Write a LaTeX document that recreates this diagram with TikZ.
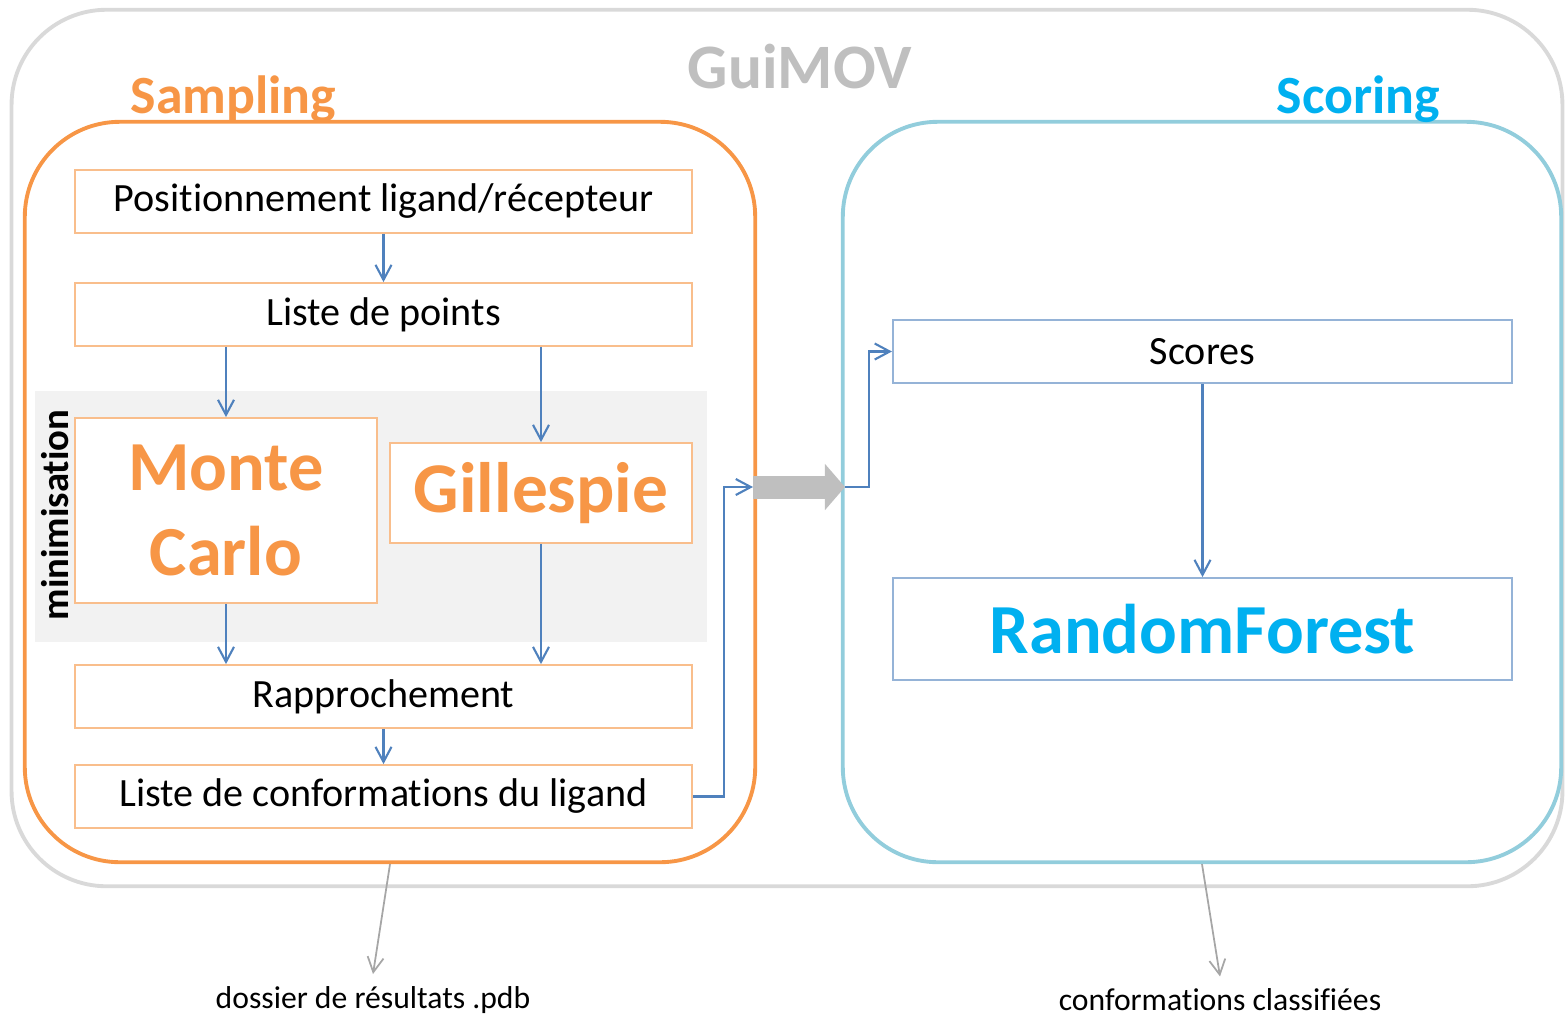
\documentclass[tikz,border=0pt]{standalone}
\usepackage{fontspec}
\setmainfont[Ligatures=CommonOff]{Carlito}
\usepackage{xcolor}
\usepackage{tikz}
\usetikzlibrary{shapes,arrows.meta,positioning}

\definecolor{guigray}{HTML}{D9D9D9}
\definecolor{titlegray}{HTML}{BFBFBF}
\definecolor{samporange}{HTML}{F79646}
\definecolor{boxorange}{HTML}{F9BE8C}
\definecolor{scorblue}{HTML}{92CDDC}
\definecolor{scorcyan}{HTML}{00B0F0}
\definecolor{boxblue}{HTML}{95B3D7}
\definecolor{arrblue}{HTML}{4F81BD}
\definecolor{shade}{HTML}{F2F2F2}
\definecolor{outgray}{HTML}{A6A6A6}

\begin{document}
\begin{tikzpicture}[x=0.01cm, y=-0.01cm,
    container/.style={rectangle, line width=1.1pt, rounded corners=0.95cm},
    obox/.style={rectangle, draw=boxorange, fill=white, line width=0.5pt, text centered},
    bbox/.style={rectangle, draw=boxblue, fill=white, line width=0.5pt, text centered},
    arr/.style={draw=arrblue, line width=0.6pt, -{Straight Barb[length=0.15cm, width=0.16cm]}},
    outarr/.style={draw=outgray, line width=0.5pt, -{Straight Barb[length=0.15cm, width=0.16cm]}},
    bigarrow/.style={draw=titlegray, line width=0.23cm, -{Triangle[length=0.2cm, width=0.45cm]}}]
    \useasboundingbox (0,0) rectangle (1566,1014);

    % Containers
    \node (guimov) [container, draw=guigray, minimum width=15.5cm, minimum height=8.76cm] at (787,448) {};
    \node (sampling) [container, draw=samporange, minimum width=7.3cm, minimum height=7.4cm] at (390,492) {};
    \node (scoring) [container, draw=scorblue, minimum width=7.18cm, minimum height=7.4cm] at (1202,492) {};

    % Titles
    \node (guititle) [anchor=base, text=titlegray, font=\fontsize{18}{20}\selectfont\bfseries] at (800,88) {GuiMOV};
    \node (samptitle) [anchor=base west, inner sep=0pt, text=samporange, font=\fontsize{15.3}{18}\selectfont\bfseries] at (130,113) {Sampling};
    \node (scortitle) [anchor=base east, inner sep=0pt, text=scorcyan, font=\fontsize{15.3}{18}\selectfont\bfseries] at (1441,113) {Scoring};

    % Minimisation area
    \node (minizone) [rectangle, fill=shade, minimum width=6.72cm, minimum height=2.51cm] at (371,516.5) {};
    \node (minilabel) [rotate=90, font=\fontsize{11}{13}\selectfont\bfseries] at (55,515) {minimisation};

    % Sampling nodes
    \node (pos) [obox, minimum width=6.17cm, minimum height=0.63cm, font=\fontsize{11.4}{13}\selectfont] at (383.5,201.5) {Positionnement ligand/récepteur};
    \node (points) [obox, minimum width=6.17cm, minimum height=0.63cm, font=\fontsize{11.4}{13}\selectfont] at (383.5,314.5) {Liste de points};
    \node (monte) [obox, minimum width=3.02cm, minimum height=1.85cm, align=center, text=samporange, font=\fontsize{20}{24}\selectfont\bfseries] at (226,510.5) {Monte\\Carlo};
    \node (gill) [obox, minimum width=3.02cm, minimum height=1.0cm, text=samporange, font=\fontsize{20.3}{24}\selectfont\bfseries] at (541,493) {Gillespie};
    \node (rapp) [obox, minimum width=6.17cm, minimum height=0.63cm, font=\fontsize{11.4}{13}\selectfont] at (383.5,696.5) {Rapprochement};
    \node (lconf) [obox, minimum width=6.17cm, minimum height=0.63cm, font=\fontsize{11.4}{13}\selectfont] at (383.5,796.5) {Liste de conformations du ligand};

    % Scoring nodes
    \node (scores) [bbox, minimum width=6.19cm, minimum height=0.63cm, font=\fontsize{11.4}{13}\selectfont] at (1202.5,351.5) {Scores};
    \node (forest) [bbox, minimum width=6.19cm, minimum height=1.02cm, text=scorcyan, font=\fontsize{20}{24}\selectfont\bfseries] at (1202.5,629) {RandomForest};

    % Outputs
    \node (resdir) [font=\fontsize{9}{10}\selectfont] at (373,1000) {dossier de résultats .pdb};
    \node (classif) [font=\fontsize{9}{10}\selectfont] at (1220,1000) {conformations classifiées};

    \coordinate (sampin) at (753,487);
    \coordinate (scorout) at (845,487);

    % Edges
    \draw[arr] (pos) -- (points);
    \draw[arr] (monte |- points.south) -- (monte.north);
    \draw[arr] (gill |- points.south) -- (gill.north);
    \draw[arr] (monte.south) -- (monte |- rapp.north);
    \draw[arr] (gill.south) -- (gill |- rapp.north);
    \draw[arr] (rapp) -- (lconf);
    \draw[arr] (lconf.east) -- ++(31,0) |- (sampin);
    \draw[bigarrow] (sampin) -- (scorout);
    \draw[arr] (scorout) -- ++(24,0) |- (scores.west);
    \draw[arr] (scores) -- (forest);
    \draw[outarr] (sampling.south) -- (resdir.north);
    \draw[outarr] (scoring.south) -- (classif.north);
\end{tikzpicture}
\end{document}
